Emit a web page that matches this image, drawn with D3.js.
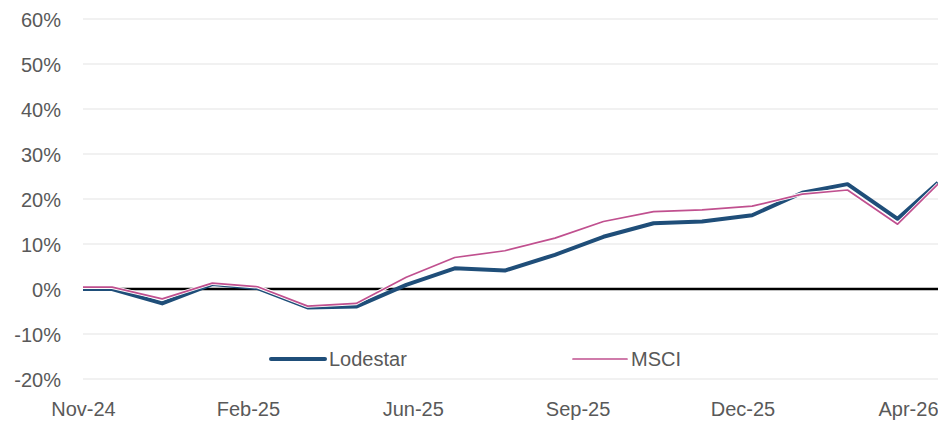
<!DOCTYPE html>
<html><head><meta charset="utf-8">
<script src="https://cdn.jsdelivr.net/npm/d3@7"></script>
<style>body{margin:0;background:#fff}svg{display:block}</style>
</head><body>
<svg id="c" width="938" height="423"></svg>
<script>
const dates = ["2024-11-12","2024-11-30","2024-12-31","2025-01-31","2025-02-28","2025-03-31","2025-04-30","2025-05-31","2025-06-30","2025-07-31","2025-08-31","2025-09-30","2025-10-31","2025-11-30","2025-12-31","2026-01-31","2026-02-28","2026-03-31","2026-04-25"];
const lodestar = [0.0,0.0,-3.2,1.1,0.2,-4.1,-3.9,0.9,4.6,4.1,7.6,11.6,14.6,15.0,16.4,21.4,23.3,15.6,23.6];
const msci = [0.4,0.4,-2.2,1.3,0.5,-3.8,-3.2,2.6,7.0,8.5,11.3,15.0,17.2,17.6,18.4,21.1,22.0,14.4,23.3];
const yTicks = [-20,-10,0,10,20,30,40,50,60];
const xTickDates = ["2024-11-12","2025-02-22","2025-06-04","2025-09-14","2025-12-25","2026-04-06"];
const seriesNames = ["Lodestar","MSCI"];

(function(){
const parse = d3.utcParse("%Y-%m-%d");
const svg = d3.select("#c");
const L = 83, R = 938, T = 19, B = 379;
const x = d3.scaleUtc().domain([parse(dates[0]), parse(dates[dates.length-1])]).range([L, R]);
const y = d3.scaleLinear().domain([-20, 60]).range([B, T]);
const font = "'Liberation Sans', Arial, sans-serif";
const grey = "#595959";

svg.append("g").selectAll("line").data(yTicks.filter(d=>d!==0)).join("line")
  .attr("x1", L).attr("x2", R).attr("y1", d=>y(d)).attr("y2", d=>y(d))
  .attr("stroke", "#ececec").attr("stroke-width", 1.5);

const yAxis = d3.axisLeft(y).tickValues(yTicks).tickFormat(d=>d+"%").tickSize(0).tickPadding(0);
const gy = svg.append("g").attr("transform", "translate(61,0)").call(yAxis);
gy.select(".domain").remove();
gy.selectAll("text").attr("font-family", font).attr("font-size", 20).attr("fill", grey).attr("dy", "0.36em");

const xAxis = d3.axisBottom(x).tickValues(xTickDates.map(parse)).tickFormat(d3.utcFormat("%b-%y")).tickSize(0).tickPadding(0);
const gx = svg.append("g").attr("transform", "translate(0,402)").call(xAxis);
gx.select(".domain").remove();
gx.selectAll("text").attr("font-family", font).attr("font-size", 20).attr("fill", grey).attr("dy", "0.71em");
gx.selectAll(".tick").filter((d,i,n)=>i===n.length-1).select("text").attr("text-anchor","end").attr("x", R - x(parse(xTickDates[xTickDates.length-1])));

svg.append("line").attr("x1", L).attr("x2", R).attr("y1", y(0)).attr("y2", y(0))
  .attr("stroke", "#000").attr("stroke-width", 2.5);

const pts = a => a.map((v,i)=>[parse(dates[i]), v]);
const line = d3.line().x(d=>x(d[0])).y(d=>y(d[1]));

svg.append("path").attr("d", line(pts(lodestar))).attr("fill","none")
  .attr("stroke", "#1f4e79").attr("stroke-width", 4).attr("stroke-linejoin","round");
svg.append("path").attr("d", line(pts(msci))).attr("fill","none")
  .attr("stroke", "#fff").attr("stroke-width", 3.5).attr("stroke-linejoin","round");
svg.append("path").attr("d", line(pts(msci))).attr("fill","none")
  .attr("stroke", "#c0508f").attr("stroke-width", 1.7).attr("stroke-linejoin","round");

const legend = [
  {name: seriesNames[0], color: "#1f4e79", w: 4, x0: 271},
  {name: seriesNames[1], color: "#c0508f", w: 1.7, x0: 573}
];
const lg = svg.append("g").selectAll("g").data(legend).join("g").attr("transform", d=>`translate(${d.x0},359)`);
lg.append("line").attr("x1",0).attr("x2",54).attr("stroke", d=>d.color).attr("stroke-width", d=>d.w).attr("stroke-linecap","round");
lg.append("text").attr("x",58).attr("dy","0.36em").text(d=>d.name)
  .attr("font-family", font).attr("font-size", 20).attr("fill", grey);
})();
</script>
</body></html>
